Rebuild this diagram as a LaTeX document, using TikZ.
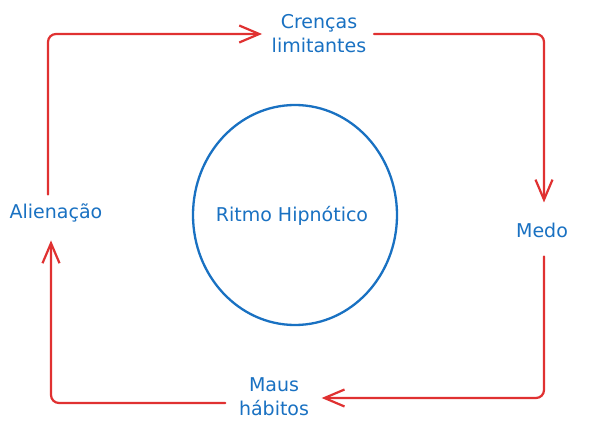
\documentclass[tikz,border=0pt]{standalone}
\usepackage{fontspec}
\setmainfont{DejaVu Sans}
\usetikzlibrary{arrows.meta,shapes.geometric}
\definecolor{exred}{HTML}{E03131}
\definecolor{exblue}{HTML}{1971C2}
\begin{document}
\begin{tikzpicture}[x=1pt,y=-1pt,
  lbl/.style={inner sep=0pt,align=center,text=exblue,font=\fontsize{19}{24}\selectfont},
  ring/.style={ellipse,draw=exblue,line width=2.3pt,minimum width=204pt,minimum height=220pt,inner sep=0pt},
  arr/.style={draw=exred,line width=2.2pt,rounded corners=8pt,line cap=round,line join=round,-{Straight Barb[length=20pt,width=17pt]}}]
\fill[white] (0,0) rectangle (595,433);
\useasboundingbox (0,0) rectangle (595,433);
\node[lbl] (cren) at (319,34) {Crenças\\limitantes};
\node[lbl] (medo) at (542,230) {Medo};
\node[lbl] (maus) at (274,396.5) {Maus\\hábitos};
\node[lbl] (alien) at (56,213) {Alienação};
\node[ring] (ritmo) at (295,215) {};
\node[lbl] (ritmotxt) at (292,216) {Ritmo Hipnótico};
\draw[arr] ([xshift=-8pt,yshift=9pt]alien.north) |- ([xshift=-9.5pt]cren.west);
\draw[arr] ([xshift=7.5pt]cren.east) -| ([xshift=2pt,yshift=20pt]medo.north);
\draw[arr] ([xshift=2pt,yshift=-19pt]medo.south) |- ([xshift=12.5pt,yshift=-1.5pt]maus.east);
\draw[arr] ([xshift=-13.5pt,yshift=-6.5pt]maus.west) -| ([xshift=-5pt,yshift=-18pt]alien.south);
\end{tikzpicture}
\end{document}
